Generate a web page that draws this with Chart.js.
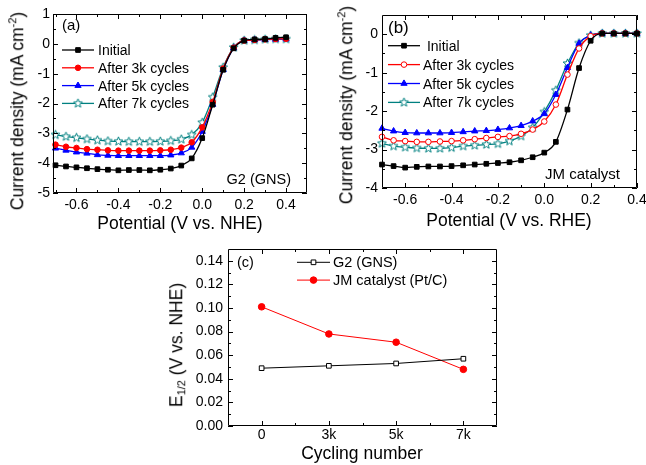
<!DOCTYPE html>
<html>
<head>
<meta charset="utf-8">
<script src="https://cdn.jsdelivr.net/npm/chart.js@4.4.1/dist/chart.umd.min.js"></script>
<style>
  body { margin: 0; background: #fff; }
  #wrap { position: relative; width: 646px; height: 465px; overflow: hidden; font-family: 'Liberation Sans', Arial, sans-serif; color: #000; }
  canvas { position: absolute; left: 0; top: 0; }
  .t { position: absolute; white-space: nowrap; font-size: 17.5px; line-height: 1; }
  .y { transform: translate(-50%, -50%) rotate(-90deg); }
  .x { transform: translateX(-50%); }
  sup { font-size: 11px; vertical-align: 7px; line-height: 0; }
  sub { font-size: 11px; vertical-align: -3px; line-height: 0; }
</style>
</head>
<body>
<div id="wrap">
  <canvas id="chartA" width="646" height="465"></canvas>
  <canvas id="chartB" width="646" height="465"></canvas>
  <canvas id="chartC" width="646" height="465"></canvas>
  <div class="t y" style="left:18px;top:111px">Current density (mA cm<sup>-2</sup>)</div>
  <div class="t x" style="left:180px;top:215px">Potential (V vs. NHE)</div>
  <div class="t y" style="left:347px;top:105px">Current density (mA cm<sup>-2</sup>)</div>
  <div class="t x" style="left:509px;top:212px">Potential (V vs. RHE)</div>
  <div class="t y" style="left:177px;top:345px">E<sub>1/2</sub> (V vs. NHE)</div>
  <div class="t x" style="left:362px;top:445px">Cycling number</div>
</div>
<script>
// datos
const potential = [-0.7, -0.65, -0.6, -0.55, -0.5, -0.45, -0.4, -0.35, -0.3, -0.25, -0.2, -0.15,
  -0.1, -0.05, 0, 0.05, 0.1, 0.15, 0.2, 0.25, 0.3, 0.35, 0.4];
const seriesNames = ['Initial', 'After 3k cycles', 'After 5k cycles', 'After 7k cycles'];

// (a) G2 (GNS)
const gnsInitial = [-4.07, -4.11, -4.14, -4.17, -4.20, -4.22, -4.24, -4.23, -4.23, -4.24, -4.22, -4.18,
  -4.08, -3.84, -3.16, -2.04, -0.87, -0.15, 0.11, 0.15, 0.16, 0.20, 0.22];
const gns3k = [-3.38, -3.45, -3.49, -3.53, -3.55, -3.57, -3.58, -3.58, -3.58, -3.58, -3.57, -3.55,
  -3.48, -3.30, -2.80, -1.95, -0.83, -0.13, 0.11, 0.13, 0.15, 0.16, 0.17];
const gns5k = [-3.50, -3.57, -3.63, -3.67, -3.72, -3.74, -3.75, -3.75, -3.75, -3.75, -3.75, -3.73,
  -3.66, -3.47, -2.94, -2.03, -0.87, -0.14, 0.11, 0.13, 0.14, 0.15, 0.16];
const gns7k = [-3.05, -3.11, -3.15, -3.19, -3.23, -3.26, -3.27, -3.28, -3.28, -3.28, -3.27, -3.25,
  -3.20, -3.05, -2.64, -1.79, -0.79, -0.12, 0.11, 0.13, 0.15, 0.16, 0.16];

// (b) JM catalyst
const jmInitial = [-3.39, -3.43, -3.47, -3.45, -3.44, -3.44, -3.43, -3.41, -3.39, -3.37, -3.35, -3.33,
  -3.28, -3.20, -3.08, -2.80, -1.96, -0.88, -0.17, 0.02, 0.02, 0.02, 0.02];
const jm3k = [-2.67, -2.76, -2.78, -2.80, -2.80, -2.79, -2.78, -2.76, -2.73, -2.70, -2.67, -2.65,
  -2.59, -2.48, -2.27, -1.83, -1.05, -0.37, -0.05, 0.02, 0.02, 0.02, 0.02];
const jm5k = [-2.45, -2.52, -2.56, -2.57, -2.57, -2.57, -2.56, -2.54, -2.52, -2.51, -2.48, -2.44,
  -2.38, -2.26, -2.07, -1.57, -0.87, -0.24, -0.03, 0.02, 0.02, 0.02, 0.02];
const jm7k = [-2.84, -2.91, -2.94, -2.96, -2.97, -2.97, -2.95, -2.91, -2.89, -2.87, -2.85, -2.78,
  -2.65, -2.43, -2.02, -1.46, -0.76, -0.23, -0.03, 0.02, 0.02, 0.02, 0.02];

// (c) E1/2 vs ciclos
const cycles = ['0', '3k', '5k', '7k'];
const g2Half = [0.049, 0.051, 0.053, 0.057];
const jmHalf = [0.101, 0.078, 0.071, 0.048];

// ticks
const xTicksA = [-0.6, -0.4, -0.2, 0, 0.2, 0.4];
const yTicksA = [1, 0, -1, -2, -3, -4, -5];
const xTicksB = [-0.6, -0.4, -0.2, 0, 0.2, 0.4];
const yTicksB = [0, -1, -2, -3, -4];
const yTicksC = [0, 0.02, 0.04, 0.06, 0.08, 0.10, 0.12, 0.14];

const W = 646, H = 465;
Chart.defaults.font.family = "'Liberation Sans', Arial, sans-serif";
Chart.defaults.font.size = 14;
Chart.defaults.color = '#000';

function starImage(color) {
  const c = document.createElement('canvas');
  c.width = c.height = 11;
  const g = c.getContext('2d');
  g.beginPath();
  for (let i = 0; i < 10; i++) {
    const r = i % 2 ? 2.0 : 4.6;
    const a = -Math.PI / 2 + i * Math.PI / 5;
    g.lineTo(5.5 + r * Math.cos(a), 5.5 + r * Math.sin(a));
  }
  g.closePath();
  g.fillStyle = '#fff';
  g.fill();
  g.strokeStyle = color;
  g.lineWidth = 1;
  g.stroke();
  return c;
}
const star = starImage('#008080');

// marco con ticks hacia dentro
const frame = {
  id: 'frame',
  afterDraw(chart, args, o) {
    const ctx = chart.ctx, a = chart.chartArea;
    const sx = chart.scales.x, sy = chart.scales.y;
    ctx.save();
    ctx.strokeStyle = '#000';
    ctx.lineWidth = 1;
    ctx.beginPath();
    ctx.rect(a.left + 0.5, a.top + 0.5, a.right - a.left - 1, a.bottom - a.top - 1);
    const xt = (list, len) => list.forEach(v => {
      const p = Math.round(sx.getPixelForValue(v)) + 0.5;
      ctx.moveTo(p, a.bottom); ctx.lineTo(p, a.bottom - len);
      ctx.moveTo(p, a.top); ctx.lineTo(p, a.top + len);
    });
    const yt = (list, len) => list.forEach(v => {
      const p = Math.round(sy.getPixelForValue(v)) + 0.5;
      ctx.moveTo(a.left, p); ctx.lineTo(a.left + len, p);
      ctx.moveTo(a.right, p); ctx.lineTo(a.right - len, p);
    });
    xt(o.xMajor, 5); xt(o.xMinor, 3);
    yt(o.yMajor, 5); yt(o.yMinor, 3);
    ctx.stroke();
    ctx.restore();
  }
};

// leyenda y textos
const notes = {
  id: 'notes',
  afterDraw(chart, args, o) {
    const ctx = chart.ctx;
    ctx.save();
    ctx.font = o.font;
    chart.data.datasets.forEach((ds, i) => {
      const y = o.y0 + i * o.dy;
      ctx.strokeStyle = ds.borderColor;
      ctx.lineWidth = ds.borderWidth;
      ctx.beginPath();
      ctx.moveTo(o.x1, y);
      ctx.lineTo(o.x2, y);
      ctx.stroke();
      ctx.fillStyle = ds.pointBackgroundColor;
      ctx.strokeStyle = ds.pointBorderColor;
      ctx.lineWidth = ds.pointBorderWidth;
      Chart.helpers.drawPoint(ctx, {
        pointStyle: ds.pointStyle, radius: ds.pointRadius, rotation: 0, borderWidth: ds.pointBorderWidth
      }, (o.x1 + o.x2) / 2, y);
      ctx.fillStyle = '#000';
      ctx.textAlign = 'left';
      ctx.textBaseline = 'alphabetic';
      ctx.fillText(o.labels ? o.labels[i] : ds.label, o.tx, y + 5);
    });
    (o.texts || []).forEach(t => {
      ctx.font = t.font;
      ctx.fillStyle = '#000';
      ctx.textAlign = t.align || 'left';
      ctx.textBaseline = 'alphabetic';
      ctx.fillText(t.text, t.x, t.y);
    });
    ctx.restore();
  }
};

function curve(label, ys, color, pointStyle, radius, fill) {
  return {
    label: label,
    data: ys.map((v, i) => ({ x: potential[i], y: v })),
    borderColor: color,
    backgroundColor: fill,
    borderWidth: 1.3,
    pointStyle: pointStyle,
    pointRadius: radius,
    pointBackgroundColor: fill,
    pointBorderColor: color,
    pointBorderWidth: 1,
    cubicInterpolationMode: 'monotone',
    clip: false
  };
}

function lsvChart(id, datasets, box, xr, yr, xTicks, yTicks, minor, tickPad, legend) {
  return new Chart(document.getElementById(id), {
    type: 'line',
    data: { datasets: datasets },
    plugins: [frame, notes],
    options: {
      responsive: false,
      animation: false,
      events: [],
      layout: { padding: { left: 0, top: box.top, right: W - box.right, bottom: 0 } },
      plugins: {
        legend: { display: false },
        tooltip: { enabled: false },
        frame: { xMajor: xTicks, xMinor: minor.x, yMajor: yTicks, yMinor: minor.y },
        notes: legend
      },
      scales: {
        x: {
          type: 'linear', min: xr[0], max: xr[1],
          grid: { display: false, drawTicks: false }, border: { display: false },
          ticks: { padding: 4, maxRotation: 0, autoSkip: false, callback: v => v.toFixed(1) },
          afterBuildTicks: s => { s.ticks = xTicks.map(v => ({ value: v })); },
          afterFit: s => { s.height = H - box.bottom; s.paddingLeft = 0; s.paddingRight = 0; }
        },
        y: {
          type: 'linear', min: yr[0], max: yr[1],
          grid: { display: false, drawTicks: false }, border: { display: false },
          ticks: { padding: tickPad, autoSkip: false, callback: v => String(v) },
          afterBuildTicks: s => { s.ticks = yTicks.map(v => ({ value: v })); },
          afterFit: s => { s.width = box.left; s.paddingTop = 0; s.paddingBottom = 0; }
        }
      }
    }
  });
}

const f14 = "14px 'Liberation Sans', Arial, sans-serif";

lsvChart('chartA', [
  curve(seriesNames[0], gnsInitial, '#000000', 'rect', 3.3, '#000000'),
  curve(seriesNames[1], gns3k, '#ff0000', 'circle', 2.8, '#ff0000'),
  curve(seriesNames[2], gns5k, '#0000ff', 'triangle', 3.6, '#0000ff'),
  curve(seriesNames[3], gns7k, '#008080', star, 4, '#ffffff')
], { left: 53, right: 307, top: 14, bottom: 193 }, [-0.712, 0.5], [-5, 1], xTicksA, yTicksA,
  { x: [-0.7, -0.5, -0.3, -0.1, 0.1, 0.3], y: [0.5, -0.5, -1.5, -2.5, -3.5, -4.5] }, 3,
  { x1: 62, x2: 94, tx: 98, y0: 50, dy: 17.8, font: f14,
    texts: [
      { text: '(a)', x: 62, y: 30, font: "15px 'Liberation Sans', Arial, sans-serif" },
      { text: 'G2 (GNS)', x: 291, y: 183.5, align: 'right', font: "14.5px 'Liberation Sans', Arial, sans-serif" }
    ] });

lsvChart('chartB', [
  curve(seriesNames[0], jmInitial, '#000000', 'rect', 3.3, '#000000'),
  curve(seriesNames[1], jm3k, '#ff0000', 'circle', 2.8, '#ffffff'),
  curve(seriesNames[2], jm5k, '#0000ff', 'triangle', 3.6, '#0000ff'),
  curve(seriesNames[3], jm7k, '#008080', star, 4, '#ffffff')
], { left: 382, right: 637, top: 15, bottom: 188 }, [-0.7, 0.4], [-4, 0.5], xTicksB, yTicksB,
  { x: [-0.5, -0.3, -0.1, 0.1, 0.3], y: [-0.5, -1.5, -2.5, -3.5] }, 4,
  { x1: 388, x2: 420, tx: 423, y0: 45.7, dy: 18.9, font: f14,
    labels: [' ' + seriesNames[0], seriesNames[1], seriesNames[2], seriesNames[3]],
    texts: [
      { text: '(b)', x: 388, y: 33, font: "17px 'Liberation Sans', Arial, sans-serif" },
      { text: 'JM catalyst', x: 545, y: 178.5, font: "15px 'Liberation Sans', Arial, sans-serif" }
    ] });

// (c)
const boxC = { left: 228, right: 497, top: 249, bottom: 426 };
new Chart(document.getElementById('chartC'), {
  type: 'line',
  data: {
    labels: cycles,
    datasets: [
      { label: 'G2 (GNS)', data: g2Half, borderColor: '#000000', backgroundColor: '#ffffff',
        borderWidth: 1, pointStyle: 'rect', pointRadius: 3.3, pointBackgroundColor: '#ffffff',
        pointBorderColor: '#000000', pointBorderWidth: 1, tension: 0, clip: false },
      { label: 'JM catalyst (Pt/C)', data: jmHalf, borderColor: '#ff0000', backgroundColor: '#ff0000',
        borderWidth: 1, pointStyle: 'circle', pointRadius: 3.3, pointBackgroundColor: '#ff0000',
        pointBorderColor: '#ff0000', pointBorderWidth: 1, tension: 0, clip: false }
    ]
  },
  plugins: [frame, notes],
  options: {
    responsive: false,
    animation: false,
    events: [],
    layout: { padding: { left: 0, top: boxC.top, right: W - boxC.right, bottom: 0 } },
    plugins: {
      legend: { display: false },
      tooltip: { enabled: false },
      frame: { xMajor: [0, 1, 2, 3], xMinor: [0.5, 1.5, 2.5],
        yMajor: yTicksC, yMinor: [0.01, 0.03, 0.05, 0.07, 0.09, 0.11, 0.13] },
      notes: { x1: 297, x2: 330, tx: 333, y0: 262.3, dy: 17.8, font: "14.5px 'Liberation Sans', Arial, sans-serif",
        texts: [{ text: '(c)', x: 237, y: 267, font: "14.5px 'Liberation Sans', Arial, sans-serif" }] }
    },
    scales: {
      x: {
        type: 'category', offset: true,
        grid: { display: false, drawTicks: false, offset: true }, border: { display: false },
        ticks: { padding: 1, maxRotation: 0, autoSkip: false },
        afterFit: s => { s.height = H - boxC.bottom; s.paddingLeft = 0; s.paddingRight = 0; }
      },
      y: {
        type: 'linear', min: 0, max: 0.15,
        grid: { display: false, drawTicks: false }, border: { display: false },
        ticks: { padding: 5, autoSkip: false, callback: v => v.toFixed(2) },
        afterBuildTicks: s => { s.ticks = yTicksC.map(v => ({ value: v })); },
        afterFit: s => { s.width = boxC.left; s.paddingTop = 0; s.paddingBottom = 0; }
      }
    }
  }
});
</script>
</body>
</html>
